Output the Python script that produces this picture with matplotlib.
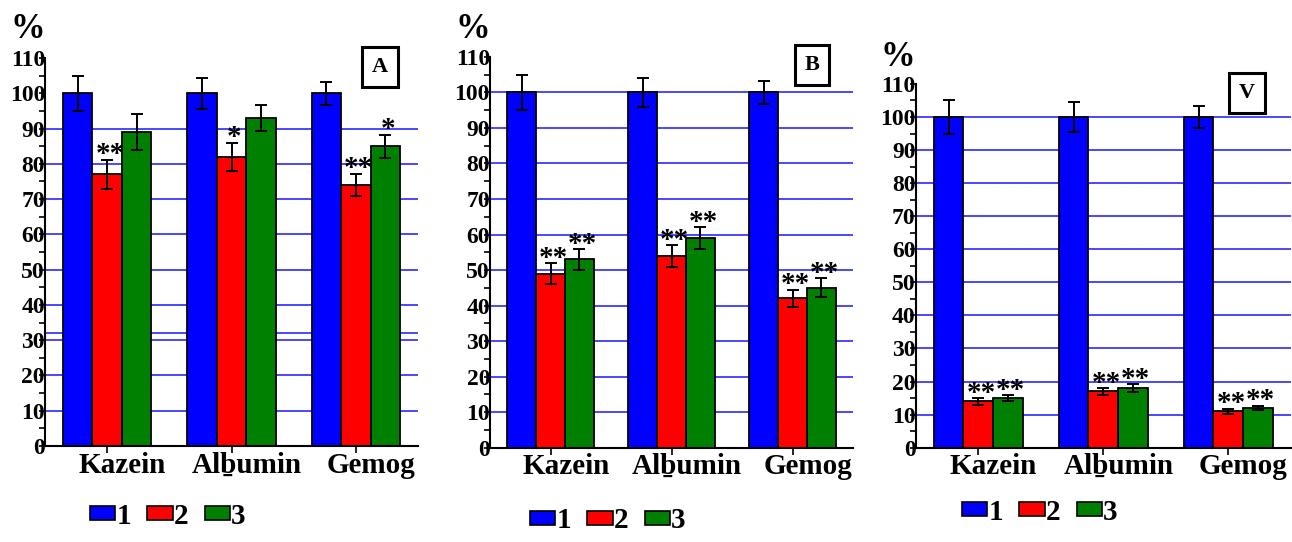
import matplotlib
matplotlib.use("Agg")
import matplotlib.pyplot as plt
from matplotlib.patches import Patch

plt.rcParams['font.family'] = ['Liberation Serif', 'DejaVu Serif']
plt.rcParams['font.weight'] = 'bold'

categories = ["Kazein", "Al\u1e07umin", "Gemog"]
series_names = ["1", "2", "3"]
colors = ["#0000ff", "#ff0000", "#008000"]

# panel A
a_values = [[100, 100, 100], [77, 82, 74], [89, 93, 85]]
a_errors = [[5, 4.4, 3.2], [4.2, 4, 3.2], [5, 3.7, 3.3]]
a_stars = [["", "", ""], ["**", "*", "**"], ["", "", "*"]]
a_grid = [10, 20, 30, 32, 40, 50, 60, 70, 80, 90]

# panel B
b_values = [[100, 100, 100], [49, 54, 42], [53, 59, 45]]
b_errors = [[5, 4, 3.2], [3, 3, 2.5], [3, 3, 2.7]]
b_stars = [["", "", ""], ["**", "**", "**"], ["**", "**", "**"]]
b_grid = [10, 20, 30, 40, 50, 60, 70, 80, 90, 100]

# panel V
v_values = [[100, 100, 100], [14, 17, 11], [15, 18, 12]]
v_errors = [[5, 4.5, 3.2], [1, 1.1, 0.8], [1, 1.2, 0.75]]
v_stars = [["", "", ""], ["**", "**", "**"], ["**", "**", "**"]]
v_grid = [10, 20, 30, 40, 50, 60, 70, 80, 90, 100]

W, H = 1292, 542
BAR_W = 0.237


def px(x, y):
    # figure pixel (from top-left) -> figure fraction
    return x / W, 1 - y / H


def draw_panel(fig, rect, values, errors, stars, grid, letter, pct_xy, letter_xy, legend_xy):
    ax = fig.add_axes(rect)
    xs = list(range(len(categories)))

    ax.hlines(grid, -0.5, 2.5, colors="#2a2aff", linewidth=1.2, zorder=1)

    for i, (vals, errs, st) in enumerate(zip(values, errors, stars)):
        pos = [x + (i - 1) * BAR_W for x in xs]
        ax.bar(pos, vals, width=BAR_W, color=colors[i], edgecolor="black",
               linewidth=1.3, zorder=2)
        ax.errorbar(pos, vals, yerr=errs, fmt="none", ecolor="black",
                    elinewidth=1.4, capsize=4, capthick=1.4, zorder=3)
        for p, v, e, s in zip(pos, vals, errs, st):
            if s:
                ax.annotate(s, xy=(p, v + e), xytext=(2, -2), textcoords="offset points",
                            ha="center", va="baseline", fontsize=21, fontweight="bold")

    ax.set_xlim(-0.5, 2.5)
    ax.set_ylim(0, 110)
    ax.set_yticks(range(0, 111, 10))
    ax.set_yticks(range(5, 110, 10), minor=True)
    ax.tick_params(axis="y", which="both", direction="out", length=4, width=1.2,
                   labelsize=17, pad=-4)
    for lab in ax.get_yticklabels():
        lab.set_fontweight("bold")
    ax.set_xticks(xs)
    ax.set_xticklabels([])
    ax.tick_params(axis="x", direction="out", length=5, width=1.2)

    for x, c in zip(xs, categories):
        ax.annotate(c, xy=(x, 0), xycoords=("data", "axes fraction"),
                    xytext=(11, -4), textcoords="offset points",
                    ha="center", va="top", fontsize=21, fontweight="bold")

    for s in ["top", "right"]:
        ax.spines[s].set_visible(False)
    for s in ["left", "bottom"]:
        ax.spines[s].set_linewidth(1.5)

    fig.text(*px(*pct_xy), "%", fontsize=25, fontweight="bold", ha="center", va="center")
    fig.text(*px(*letter_xy), letter, fontsize=16, fontweight="bold", ha="center", va="center",
             bbox=dict(boxstyle="square,pad=0.45", fc="white", ec="black", lw=2.2))

    handles = [Patch(facecolor=c, edgecolor="black", linewidth=1.2) for c in colors]
    ax.legend(handles, series_names, ncol=3, loc="center",
              bbox_to_anchor=px(*legend_xy), bbox_transform=fig.transFigure,
              frameon=False, prop={"size": 21, "weight": "bold"},
              handlelength=0.86, handleheight=0.38, handletextpad=0.05,
              columnspacing=0.55, borderpad=0)
    return ax


fig = plt.figure(figsize=(W / 100, H / 100), dpi=100)

draw_panel(fig, [45 / W, (H - 446) / H, 373 / W, 388 / H],
           a_values, a_errors, a_stars, a_grid, "A",
           (28, 30), (380, 67), (168, 516))
draw_panel(fig, [490 / W, (H - 447.7) / H, 363 / W, 390.8 / H],
           b_values, b_errors, b_stars, b_grid, "B",
           (473, 30), (812, 65), (608, 521))
draw_panel(fig, [915.7 / W, (H - 447.7) / H, 375 / W, 363.8 / H],
           v_values, v_errors, v_stars, v_grid, "V",
           (898, 57), (1247, 93), (1040, 512))

fig.savefig("out.png", dpi=100)
